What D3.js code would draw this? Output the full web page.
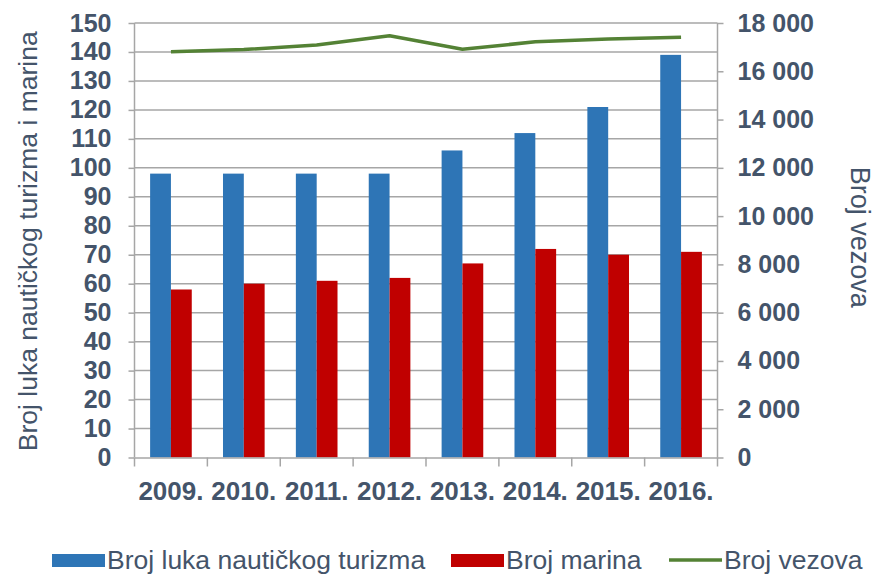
<!DOCTYPE html>
<html>
<head>
<meta charset="utf-8">
<script src="https://cdn.jsdelivr.net/npm/d3@7"></script>
<style>
  body { margin: 0; background: #fff; }
  text { font-family: "Liberation Sans", Arial, sans-serif; fill: #44546A; }
</style>
</head>
<body>
<svg id="chart" width="876" height="576"></svg>
<script>
// Data

const years = ["2009.", "2010.", "2011.", "2012.", "2013.", "2014.", "2015.", "2016."];
const luke = [98, 98, 98, 98, 106, 112, 121, 139];
const marine = [58, 60, 61, 62, 67, 72, 70, 71];
const vezovi = [16810, 16900, 17090, 17470, 16910, 17220, 17340, 17410];

const leftTicks = d3.range(0, 151, 10);
const rightTicks = d3.range(0, 18001, 2000);

const colors = { blue: "#2E75B6", red: "#C00000", green: "#548235", grid: "#A6A6A6" };

// Layout

const m = { left: 134.5, right: 717.5, top: 23, bottom: 457.5 };
const svg = d3.select("#chart");

const x = d3.scaleBand().domain(years).range([m.left, m.right]);
const xInner = d3.scaleBand().domain(["luke", "marine"])
    .range([0, x.bandwidth()]).paddingInner(0).paddingOuter(0.75);
const yL = d3.scaleLinear().domain([0, 150]).range([m.bottom, m.top]);
const yR = d3.scaleLinear().domain([0, 18000]).range([m.bottom, m.top]);

const fmt = d3.formatLocale({ decimal: ",", thousands: " ", grouping: [3], currency: ["", ""] }).format(",d");

// Gridlines

svg.append("g")
    .selectAll("line")
    .data(leftTicks.slice(1))
    .join("line")
    .attr("x1", m.left).attr("x2", m.right)
    .attr("y1", d => yL(d)).attr("y2", d => yL(d))
    .attr("stroke", colors.grid)
    .attr("stroke-width", 1.5);

// Bars

const group = svg.append("g")
    .selectAll("g")
    .data(years)
    .join("g")
    .attr("transform", d => `translate(${x(d)},0)`);

group.append("rect")
    .attr("x", xInner("luke"))
    .attr("width", xInner.bandwidth())
    .attr("y", (d, i) => yL(luke[i]))
    .attr("height", (d, i) => yL(0) - yL(luke[i]))
    .attr("fill", colors.blue);

group.append("rect")
    .attr("x", xInner("marine"))
    .attr("width", xInner.bandwidth())
    .attr("y", (d, i) => yL(marine[i]))
    .attr("height", (d, i) => yL(0) - yL(marine[i]))
    .attr("fill", colors.red);

// Line

const line = d3.line()
    .x((d, i) => x(years[i]) + x.bandwidth() / 2)
    .y(d => yR(d));

svg.append("path")
    .datum(vezovi)
    .attr("d", line)
    .attr("fill", "none")
    .attr("stroke", colors.green)
    .attr("stroke-width", 3.5)
    .attr("stroke-linejoin", "round");

// Axes

const axisLeft = svg.append("g")
    .attr("transform", `translate(${m.left},0)`)
    .call(d3.axisLeft(yL).tickValues(leftTicks).tickSize(6).tickPadding(17));

const axisRight = svg.append("g")
    .attr("transform", `translate(${m.right},0)`)
    .call(d3.axisRight(yR).tickValues(rightTicks).tickSize(6).tickPadding(14).tickFormat(fmt));

const axisBottom = svg.append("g")
    .attr("transform", `translate(0,${m.bottom})`)
    .call(d3.axisBottom(x).tickSize(0).tickPadding(24));

// band boundary ticks on x axis
axisBottom.selectAll(".edge")
    .data(years.map(d => x(d)).concat([m.right]))
    .join("line")
    .attr("class", "edge")
    .attr("x1", d => d).attr("x2", d => d)
    .attr("y1", 0).attr("y2", 9)
    .attr("stroke", colors.grid)
    .attr("stroke-width", 1.5);

[axisLeft, axisRight, axisBottom].forEach(a => {
    a.select(".domain").attr("stroke", colors.grid).attr("stroke-width", 1.5);
    a.selectAll(".tick line").attr("stroke", colors.grid).attr("stroke-width", 1.5);
    a.selectAll(".tick text")
        .attr("fill", "#44546A")
        .style("font-size", "25px")
        .style("font-weight", "bold")
        .style("font-family", "'Liberation Sans', Arial, sans-serif");
});
axisBottom.selectAll(".tick text").style("font-size", "26px");
axisRight.select(".domain").attr("d", `M0,${m.top}V${m.bottom}`);
axisLeft.select(".domain").attr("d", `M0,${m.top}V${m.bottom}`);

// Axis titles

svg.append("text")
    .attr("transform", `translate(37,${(m.top + m.bottom) / 2 + 1}) rotate(-90)`)
    .attr("text-anchor", "middle")
    .style("font-size", "26.5px")
    .text("Broj luka nautičkog turizma i marina");

svg.append("text")
    .attr("transform", `translate(851,${(m.top + m.bottom) / 2 - 3}) rotate(90)`)
    .attr("text-anchor", "middle")
    .style("font-size", "27px")
    .text("Broj vezova");

// Legend

const legend = [
    { label: "Broj luka nautičkog turizma", color: colors.blue, type: "rect", x: 52 },
    { label: "Broj marina", color: colors.red, type: "rect", x: 451 },
    { label: "Broj vezova", color: colors.green, type: "line", x: 669 }
];

const item = svg.append("g")
    .selectAll("g")
    .data(legend)
    .join("g")
    .attr("transform", d => `translate(${d.x},560)`);

item.filter(d => d.type === "rect")
    .append("rect")
    .attr("x", 0).attr("y", -6)
    .attr("width", 53).attr("height", 13)
    .attr("fill", d => d.color);

item.filter(d => d.type === "line")
    .append("line")
    .attr("x1", 0).attr("x2", 53)
    .attr("stroke", d => d.color)
    .attr("stroke-width", 3.5);

item.append("text")
    .attr("x", 55)
    .attr("dy", "0.35em")
    .style("font-size", "26.5px")
    .text(d => d.label);
</script>
</body>
</html>
